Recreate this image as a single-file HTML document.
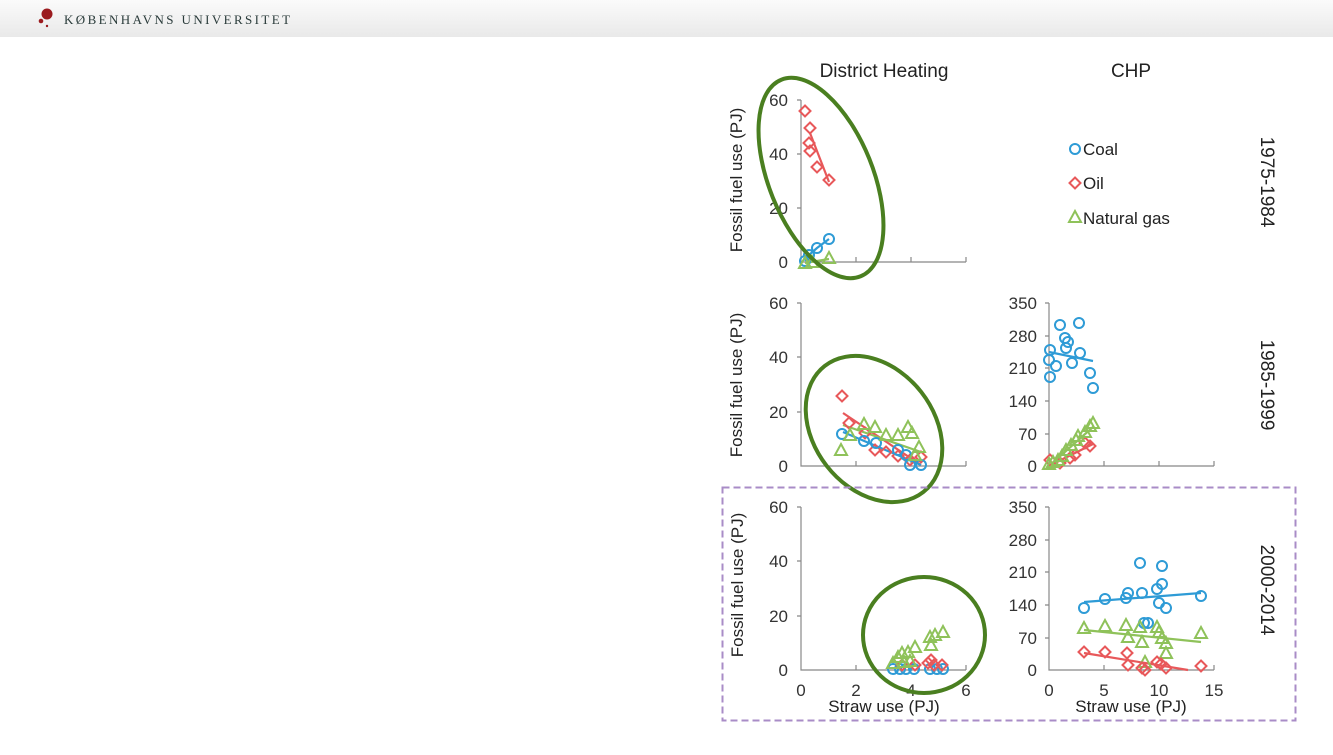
<!DOCTYPE html>
<html><head><meta charset="utf-8"><style>
body{margin:0;width:1333px;height:750px;background:#fff;overflow:hidden;font-family:"Liberation Sans",sans-serif}
</style></head><body>
<svg width="1333" height="750" xmlns="http://www.w3.org/2000/svg" font-family="Liberation Sans, sans-serif">
<defs>
<linearGradient id="hg" x1="0" y1="0" x2="0" y2="1"><stop offset="0" stop-color="#fbfbfb"/><stop offset="1" stop-color="#e9e9e9"/></linearGradient>
<g id="c"><circle r="5" fill="none" stroke="#2e9bd6" stroke-width="2"/></g>
<g id="o"><path d="M0,-5.5 L5.5,0 L0,5.5 L-5.5,0Z" fill="none" stroke="#e8585a" stroke-width="2"/></g>
<g id="g"><path d="M0,-6 L6,5 L-6,5Z" fill="none" stroke="#8fc25a" stroke-width="2"/></g>
</defs>
<rect x="0" y="0" width="1333" height="37" fill="url(#hg)"/>
<circle cx="47" cy="14" r="5.5" fill="#9b1b1f"/><circle cx="41" cy="21" r="2.3" fill="#9b1b1f"/><circle cx="47" cy="26" r="1.2" fill="#9b1b1f"/>
<text x="64" y="24" font-family="Liberation Serif, serif" font-size="13" letter-spacing="2.4" fill="#2a3b3a">KØBENHAVNS UNIVERSITET</text>

<g fill="#222" font-size="19" text-anchor="middle">
<text x="884" y="77">District Heating</text>
<text x="1131" y="77">CHP</text>
</g>
<g fill="#222" font-size="19" text-anchor="middle">
<text transform="translate(1261,182) rotate(90)">1975-1984</text>
<text transform="translate(1261,385) rotate(90)">1985-1999</text>
<text transform="translate(1261,590) rotate(90)">2000-2014</text>
</g>
<g fill="#222" font-size="17" text-anchor="middle">
<text transform="translate(742,180) rotate(-90)">Fossil fuel use (PJ)</text>
<text transform="translate(742,385) rotate(-90)">Fossil fuel use (PJ)</text>
<text transform="translate(743,585) rotate(-90)">Fossil fuel use (PJ)</text>
<text x="884" y="712">Straw use (PJ)</text>
<text x="1131" y="712">Straw use (PJ)</text>
</g>

<g stroke="#888" stroke-width="1.2" fill="none">
<path d="M801,100 V262 H966 M797,100H801 M797,154H801 M797,208H801 M856,262V257 M911,262V257 M966,262V257"/>
<path d="M801,303 V466 H966 M797,303H801 M797,357H801 M797,412H801 M856,466V461 M911,466V461 M966,466V461"/>
<path d="M801,507 V670 H966 M797,507H801 M797,561H801 M797,616H801 M856,670V665 M911,670V665 M966,670V665"/>
<path d="M1049,303 V466 H1214 M1045,303H1049 M1045,336H1049 M1045,368H1049 M1045,401H1049 M1045,434H1049 M1104,466V461 M1159,466V461 M1214,466V461"/>
<path d="M1049,507 V670 H1214 M1045,507H1049 M1045,540H1049 M1045,572H1049 M1045,605H1049 M1045,638H1049 M1104,670V665 M1159,670V665 M1214,670V665"/>
</g>
<g fill="#333" font-size="17" text-anchor="end">
<text x="788" y="106">60</text><text x="788" y="160">40</text><text x="788" y="214">20</text><text x="788" y="268">0</text>
<text x="788" y="309">60</text><text x="788" y="363">40</text><text x="788" y="418">20</text><text x="788" y="472">0</text>
<text x="788" y="513">60</text><text x="788" y="567">40</text><text x="788" y="622">20</text><text x="788" y="676">0</text>
<text x="1037" y="309">350</text><text x="1037" y="342">280</text><text x="1037" y="374">210</text><text x="1037" y="407">140</text><text x="1037" y="440">70</text><text x="1037" y="472">0</text>
<text x="1037" y="513">350</text><text x="1037" y="546">280</text><text x="1037" y="578">210</text><text x="1037" y="611">140</text><text x="1037" y="644">70</text><text x="1037" y="676">0</text>
</g>
<g fill="#333" font-size="17" text-anchor="middle">
<text x="801" y="696">0</text><text x="856" y="696">2</text><text x="911" y="696">4</text><text x="966" y="696">6</text>
<text x="1049" y="696">0</text><text x="1104" y="696">5</text><text x="1159" y="696">10</text><text x="1214" y="696">15</text>
</g>

<use href="#c" x="1075" y="149"/><text x="1083" y="155" font-size="17" fill="#222">Coal</text>
<use href="#o" x="1075" y="183"/><text x="1083" y="189" font-size="17" fill="#222">Oil</text>
<use href="#g" x="1075" y="217"/><text x="1083" y="224" font-size="17" fill="#222">Natural gas</text>

<g stroke-width="2.2" fill="none">
<path d="M810,133 L829,182" stroke="#e8585a"/>
<path d="M805,261 L809,255 L817,248 L829,239" stroke="#2e9bd6"/>
<path d="M805,263 L829,259" stroke="#8fc25a"/>
<path d="M843,413 L921,465" stroke="#e8585a"/>
<path d="M843,432 L921,465" stroke="#2e9bd6"/>
<path d="M843,425 L921,452" stroke="#8fc25a"/>
<path d="M1049,352 L1093,361" stroke="#2e9bd6"/>
<path d="M1049,466 L1093,427" stroke="#8fc25a"/>
<path d="M1049,466 L1093,444" stroke="#e8585a"/>
<path d="M1084,602 L1201,593" stroke="#2e9bd6"/>
<path d="M1084,630 L1201,642" stroke="#8fc25a"/>
<path d="M1084,653 L1188,670" stroke="#e8585a"/>
</g>

<use href="#o" x="805" y="111"/><use href="#o" x="810" y="128"/><use href="#o" x="809" y="143"/><use href="#o" x="810" y="151"/><use href="#o" x="817" y="167"/><use href="#o" x="829" y="180"/>
<use href="#c" x="805" y="261"/><use href="#c" x="809" y="255"/><use href="#c" x="817" y="248"/><use href="#c" x="829" y="239"/>
<use href="#g" x="805" y="263"/><use href="#g" x="812" y="262"/><use href="#g" x="829" y="258"/>

<use href="#o" x="842" y="396"/><use href="#o" x="849" y="423"/><use href="#o" x="865" y="433"/><use href="#o" x="875" y="450"/><use href="#o" x="886" y="452"/><use href="#o" x="898" y="456"/><use href="#o" x="910" y="460"/><use href="#o" x="921" y="457"/>
<use href="#c" x="842" y="434"/><use href="#c" x="864" y="441"/><use href="#c" x="876" y="443"/><use href="#c" x="898" y="450"/><use href="#c" x="906" y="455"/><use href="#c" x="910" y="465"/><use href="#c" x="921" y="465"/>
<use href="#g" x="841" y="450"/><use href="#g" x="850" y="435"/><use href="#g" x="864" y="424"/><use href="#g" x="875" y="427"/><use href="#g" x="886" y="435"/><use href="#g" x="898" y="435"/><use href="#g" x="908" y="427"/><use href="#g" x="912" y="433"/><use href="#g" x="919" y="447"/><use href="#g" x="915" y="455"/>

<use href="#c" x="1050" y="350"/><use href="#c" x="1049" y="360"/><use href="#c" x="1050" y="377"/><use href="#c" x="1056" y="366"/><use href="#c" x="1060" y="325"/><use href="#c" x="1065" y="338"/><use href="#c" x="1068" y="342"/><use href="#c" x="1066" y="348"/><use href="#c" x="1072" y="363"/><use href="#c" x="1079" y="323"/><use href="#c" x="1080" y="353"/><use href="#c" x="1090" y="373"/><use href="#c" x="1093" y="388"/>
<use href="#o" x="1050" y="460"/><use href="#o" x="1060" y="463"/><use href="#o" x="1070" y="458"/><use href="#o" x="1075" y="455"/><use href="#o" x="1085" y="443"/><use href="#o" x="1090" y="446"/>
<use href="#g" x="1049" y="464"/><use href="#g" x="1053" y="462"/><use href="#g" x="1058" y="460"/><use href="#g" x="1062" y="456"/><use href="#g" x="1066" y="450"/><use href="#g" x="1071" y="445"/><use href="#g" x="1076" y="440"/><use href="#g" x="1078" y="436"/><use href="#g" x="1085" y="432"/><use href="#g" x="1090" y="426"/><use href="#g" x="1093" y="423"/>

<use href="#c" x="893" y="669"/><use href="#c" x="900" y="669"/><use href="#c" x="906" y="669"/><use href="#c" x="914" y="669"/><use href="#c" x="930" y="669"/><use href="#c" x="937" y="669"/><use href="#c" x="943" y="669"/>
<use href="#o" x="902" y="665"/><use href="#o" x="915" y="665"/><use href="#o" x="931" y="660"/><use href="#o" x="934" y="665"/><use href="#o" x="942" y="665"/><use href="#o" x="928" y="663"/>
<use href="#g" x="893" y="663"/><use href="#g" x="898" y="657"/><use href="#g" x="902" y="653"/><use href="#g" x="908" y="652"/><use href="#g" x="915" y="647"/><use href="#g" x="930" y="637"/><use href="#g" x="931" y="645"/><use href="#g" x="935" y="635"/><use href="#g" x="943" y="632"/><use href="#g" x="904" y="662"/><use href="#g" x="910" y="661"/>

<use href="#c" x="1084" y="608"/><use href="#c" x="1105" y="599"/><use href="#c" x="1126" y="598"/><use href="#c" x="1128" y="593"/><use href="#c" x="1142" y="593"/><use href="#c" x="1140" y="563"/><use href="#c" x="1162" y="566"/><use href="#c" x="1157" y="589"/><use href="#c" x="1162" y="584"/><use href="#c" x="1159" y="603"/><use href="#c" x="1166" y="608"/><use href="#c" x="1144" y="623"/><use href="#c" x="1148" y="623"/><use href="#c" x="1201" y="596"/>
<use href="#g" x="1084" y="628"/><use href="#g" x="1105" y="626"/><use href="#g" x="1126" y="625"/><use href="#g" x="1128" y="637"/><use href="#g" x="1140" y="627"/><use href="#g" x="1142" y="642"/><use href="#g" x="1145" y="662"/><use href="#g" x="1157" y="627"/><use href="#g" x="1159" y="632"/><use href="#g" x="1162" y="638"/><use href="#g" x="1166" y="643"/><use href="#g" x="1166" y="653"/><use href="#g" x="1201" y="633"/>
<use href="#o" x="1084" y="652"/><use href="#o" x="1105" y="652"/><use href="#o" x="1127" y="653"/><use href="#o" x="1128" y="665"/><use href="#o" x="1142" y="668"/><use href="#o" x="1145" y="670"/><use href="#o" x="1157" y="662"/><use href="#o" x="1161" y="664"/><use href="#o" x="1166" y="668"/><use href="#o" x="1201" y="666"/>

<g fill="none" stroke="#4a7f20" stroke-width="4">
<ellipse cx="821" cy="178" rx="52" ry="106" transform="rotate(-22 821 178)"/>
<ellipse cx="874" cy="429" rx="60" ry="80" transform="rotate(-38 874 429)"/>
<ellipse cx="924" cy="635" rx="61" ry="58"/>
</g>
<rect x="722.5" y="487.5" width="573" height="233" fill="none" stroke="#a98cc7" stroke-width="2" stroke-dasharray="7,4"/>
</svg>
</body></html>
